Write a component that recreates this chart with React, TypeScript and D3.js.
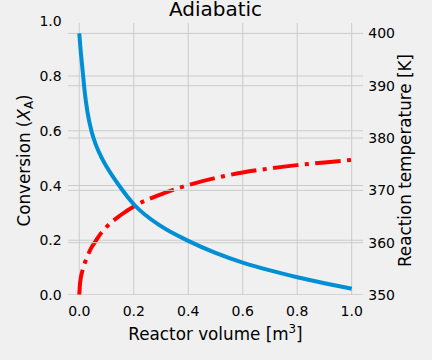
import React from "react";
import * as d3 from "d3";

// Reactor volume [m^3]
const volume = [0, 0.003, 0.0125, 0.02, 0.03, 0.045, 0.06, 0.08, 0.1, 0.15, 0.2, 0.3, 0.4, 0.5, 0.6, 0.7, 0.8, 0.9, 1.0];
// Reaction temperature [K] (right axis, blue)
const temperature = [400, 398.0, 392.8, 388.8, 385.0, 381.3, 378.85, 376.45, 374.55, 370.65, 367.35, 363.15, 360.35, 358.05, 356.2, 354.7, 353.4, 352.25, 351.2];
// Conversion X_A (left axis, red dash-dot)
const conversion = [0, 0.045, 0.092, 0.116, 0.142, 0.174, 0.197, 0.226, 0.249, 0.2905, 0.3235, 0.368, 0.4015, 0.4275, 0.4475, 0.4625, 0.4745, 0.4845, 0.4935];

const xTicks = [0, 0.2, 0.4, 0.6, 0.8, 1.0];
const leftTicks = [0, 0.2, 0.4, 0.6, 0.8, 1.0];
const rightTicks = [350, 360, 370, 380, 390, 400];

const W = 432;
const H = 360;
const L = 67.7, R = 363.3, T = 22.7, B = 295;

export default function App() {
  const x = d3.scaleLinear().domain([-0.0425, 1.0426]).range([L, R]);
  const yL = d3.scaleLinear().domain([0, 1]).range([B, 21.3]);
  const yR = d3.scaleLinear().domain([350, 400]).range([B, 33.4]);

  const redLine = d3
    .line<number>()
    .x((_, i) => x(volume[i]))
    .y((d) => yL(d))
    .curve(d3.curveMonotoneX)(conversion) as string;
  const blueLine = d3
    .line<number>()
    .x((_, i) => x(volume[i]))
    .y((d) => yR(d))
    .curve(d3.curveMonotoneX)(temperature) as string;

  const font = "DejaVu Sans";
  const grid = "#cbcbcb";
  const fmt = d3.format(".1f");

  return (
    <svg
      width={W}
      height={H}
      style={{ position: "fixed", left: 0, top: 0, background: "#f0f0f0" }}
      fontFamily={font}
    >
      <defs>
        <clipPath id="axclip">
          <rect x={L} y={T} width={R - L} height={B - T} />
        </clipPath>
      </defs>
      <rect x={0} y={0} width={W} height={H} fill="#f0f0f0" />
      <g clipPath="url(#axclip)">
        {xTicks.map((t) => (
          <line key={"xg" + t} x1={x(t)} x2={x(t)} y1={T} y2={B} stroke={grid} strokeWidth={1} />
        ))}
        {leftTicks.map((t) => (
          <line key={"lg" + t} x1={L} x2={R} y1={yL(t)} y2={yL(t)} stroke={grid} strokeWidth={1} />
        ))}
        <path
          d={redLine}
          fill="none"
          stroke="#ff0000"
          strokeWidth={4}
          strokeDasharray="25.6,6.4,4,6.4"
          strokeLinecap="butt"
        />
        {rightTicks.map((t) => (
          <line key={"rg" + t} x1={L} x2={R} y1={yR(t)} y2={yR(t)} stroke={grid} strokeWidth={1} />
        ))}
        <path d={blueLine} fill="none" stroke="#008fd5" strokeWidth={4} strokeLinecap="butt" />
      </g>

      {xTicks.map((t) => (
        <text key={"xt" + t} x={x(t)} y={316} fontSize={14} textAnchor="middle" fill="#000">
          {fmt(t)}
        </text>
      ))}
      {leftTicks.map((t) => (
        <text key={"lt" + t} x={61.7} y={yL(t)} dy="0.36em" fontSize={14} textAnchor="end" fill="#000">
          {fmt(t)}
        </text>
      ))}
      {rightTicks.map((t) => (
        <text key={"rt" + t} x={368.3} y={yR(t)} dy="0.36em" fontSize={14} textAnchor="start" fill="#000">
          {t}
        </text>
      ))}

      <text x={215.5} y={15.5} fontSize={20} textAnchor="middle" fill="#000">
        Adiabatic
      </text>
      <text x={215.5} y={339.5} fontSize={16.8} textAnchor="middle" fill="#000">
        Reactor volume [m<tspan fontSize={11.8} dy={-6.5}>3</tspan>
        <tspan dy={6.5}>]</tspan>
      </text>
      <text
        transform={`translate(29.5, 160.5) rotate(-90)`}
        fontSize={16.8}
        textAnchor="middle"
        fill="#000"
      >
        Conversion (<tspan fontStyle="italic">X</tspan>
        <tspan fontSize={11.8} dy={3}>A</tspan>
        <tspan dy={-3}>)</tspan>
      </text>
      <text
        transform={`translate(410.5, 160.5) rotate(-90)`}
        fontSize={16.8}
        textAnchor="middle"
        fill="#000"
      >
        Reaction temperature [K]
      </text>
    </svg>
  );
}
